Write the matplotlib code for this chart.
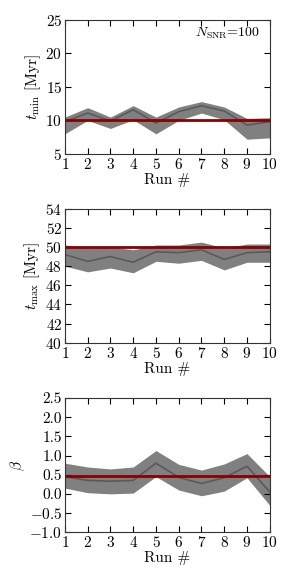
import numpy as np
import matplotlib
matplotlib.use("Agg")
import matplotlib.pyplot as plt

plt.rcParams['font.family'] = 'serif'
plt.rcParams['font.serif'] = ['cmr10', 'DejaVu Serif']
plt.rcParams['mathtext.fontset'] = 'cm'
plt.rcParams['axes.formatter.use_mathtext'] = True
plt.rcParams['font.size'] = 11

runs = np.arange(1, 11)

# t_min panel
tmin_mean = [9.8, 11.1, 9.9, 11.6, 9.6, 11.3, 12.2, 11.4, 9.3, 9.8]
tmin_low = [8.0, 10.0, 8.8, 10.1, 8.0, 10.0, 11.1, 10.1, 7.2, 7.4]
tmin_high = [10.5, 11.9, 10.5, 12.2, 10.5, 12.0, 12.8, 12.0, 10.3, 10.4]
tmin_true = 10.0

# t_max panel
tmax_mean = [49.2, 48.5, 49.0, 48.4, 49.5, 49.4, 49.7, 48.7, 49.4, 49.5]
tmax_low = [48.0, 47.4, 47.8, 47.3, 48.5, 48.3, 48.6, 47.6, 48.4, 48.4]
tmax_high = [50.2, 49.9, 50.0, 49.7, 50.2, 50.2, 50.5, 49.9, 50.3, 50.3]
tmax_true = 50.0

# beta panel
beta_mean = [0.45, 0.35, 0.33, 0.35, 0.80, 0.43, 0.27, 0.42, 0.72, 0.05]
beta_low = [0.15, 0.03, 0.0, 0.02, 0.45, 0.10, -0.05, 0.07, 0.42, -0.30]
beta_high = [0.80, 0.70, 0.65, 0.70, 1.13, 0.77, 0.62, 0.78, 1.05, 0.45]
beta_true = 0.47

panels = [
    (tmin_mean, tmin_low, tmin_high, tmin_true, r'$t_{\rm min}$ [Myr]', (5, 25), [5, 10, 15, 20, 25], 0.735),
    (tmax_mean, tmax_low, tmax_high, tmax_true, r'$t_{\rm max}$ [Myr]', (40, 54), [40, 42, 44, 46, 48, 50, 52, 54], 0.410),
    (beta_mean, beta_low, beta_high, beta_true, r'$\beta$', (-1.0, 2.5), [-1.0, -0.5, 0.0, 0.5, 1.0, 1.5, 2.0, 2.5], 0.084),
]

fig = plt.figure(figsize=(2.91, 5.81), dpi=100)

for i, (mean, low, high, true, ylabel, ylim, yticks, bottom) in enumerate(panels):
    ax = fig.add_axes([0.223, bottom, 0.704, 0.231])
    ax.fill_between(runs, low, high, color='#808080', linewidth=0)
    ax.plot(runs, mean, color='#5a5a5a', linewidth=1.2)
    ax.axhline(true, color='#8b0000', linewidth=2)
    ax.set_xlim(1, 10)
    ax.set_ylim(*ylim)
    ax.set_xticks(runs)
    ax.set_yticks(yticks)
    if i == 2:
        ax.set_yticklabels([f'{v:.1f}'.replace('-', '\u2212') if v >= 0 else r'$-$' + f'{-v:.1f}' for v in yticks])
    ax.tick_params(direction='in', top=True, right=True, length=4, pad=2)
    ax.set_xlabel('Run #', labelpad=1)
    ax.set_ylabel(ylabel, labelpad=2)
    for s in ax.spines.values():
        s.set_color('#333333')
    if i == 0:
        ax.text(0.95, 0.9, r'$N_{\rm SNR}$=100', transform=ax.transAxes,
                ha='right', va='center', fontsize=10)

fig.savefig('out.png', dpi=100)
